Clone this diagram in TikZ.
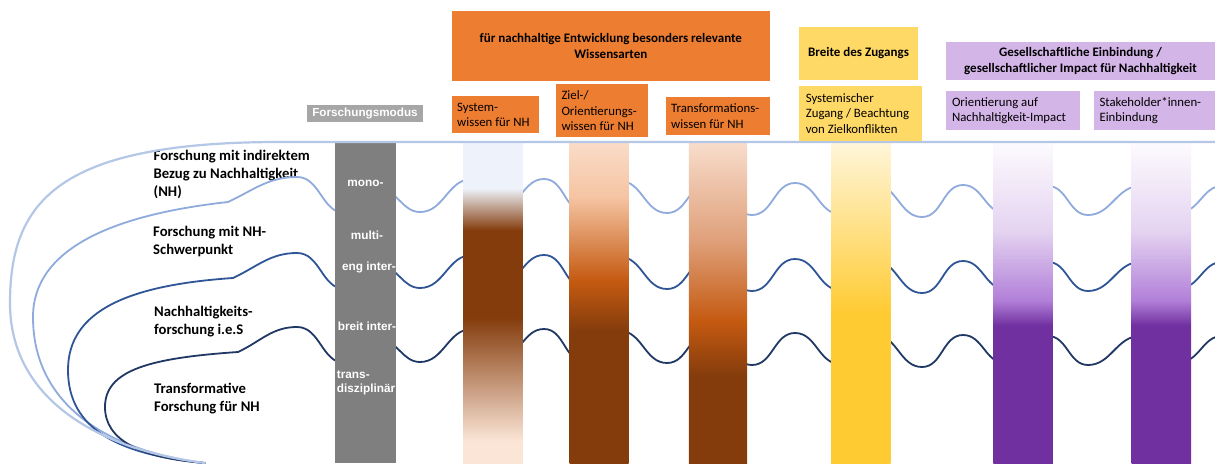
\documentclass[tikz,border=0pt]{standalone}
\usepackage{fontspec}
\setmainfont{Carlito}
\newfontfamily\arialf{Liberation Sans}
\definecolor{orng}{HTML}{ED7D31}
\definecolor{yel}{HTML}{FFD966}
\definecolor{lav}{HTML}{D4B5E8}
\definecolor{grl}{HTML}{A6A6A6}
\definecolor{grd}{HTML}{7F7F7F}
\definecolor{wA}{HTML}{B4C7E7}
\definecolor{wB}{HTML}{8FAADC}
\definecolor{wC}{HTML}{2F5597}
\definecolor{wD}{HTML}{203864}
\definecolor{brn}{HTML}{843C0C}
\definecolor{org}{HTML}{C55A11}
\definecolor{pur}{HTML}{7030A0}
\definecolor{b1a}{HTML}{EEF3FB}
\definecolor{b1z}{HTML}{FBE5D6}
\definecolor{b2a}{HTML}{FADCC8}
\definecolor{b2b}{HTML}{F5C4A2}
\definecolor{b3a}{HTML}{F8DDCC}
\definecolor{b3b}{HTML}{DFA07A}
\definecolor{ya}{HTML}{FFF6DA}
\definecolor{yb}{HTML}{FFCB33}
\definecolor{pa}{HTML}{FDFBFE}
\definecolor{pb}{HTML}{E5D4F1}
\definecolor{pc}{HTML}{B17FD8}
\pgfdeclareverticalshading{barone}{59bp}{color(0bp)=(b1z); color(23bp)=(b1z); color(146bp)=(brn); color(233bp)=(brn); color(275bp)=(b1a); color(321bp)=(b1a)}
\pgfdeclareverticalshading{bartwo}{59bp}{color(0bp)=(brn); color(133bp)=(brn); color(183bp)=(org); color(266bp)=(b2b); color(321bp)=(b2a)}
\pgfdeclareverticalshading{barthree}{58bp}{color(0bp)=(brn); color(88bp)=(brn); color(143bp)=(org); color(223bp)=(b3b); color(321bp)=(b3a)}
\pgfdeclareverticalshading{baryel}{59.5bp}{color(0bp)=(yb); color(150bp)=(yb); color(321bp)=(ya)}
\pgfdeclareverticalshading{barpur}{59.3bp}{color(0bp)=(pur); color(138bp)=(pur); color(163bp)=(pc); color(233bp)=(pb); color(321bp)=(pa)}
\newcommand\wavebody[2]{\begin{scope}[yshift=#2]
  \draw[wave,#1] (297,-177) to[wv] (345,-213) to[wv] (380,-190) to[wv] (420,-212)
   to[wv] (472,-179) to[wv] (500,-207) to[wv] (544,-179) to[wv] (585,-212)
   to[wv] (620,-181) to[wv] (667,-213) to[wv] (710,-182) to[wv] (752,-215)
   to[wv] (795,-183) to[wv] (840,-214) to[wv] (875,-185) to[wv] (922,-217)
   to[wv] (963,-185) to[wv] (1005,-213) to[wv] (1048,-186) to[wv] (1088,-215)
   to[wv] (1140,-186) to[wv] (1180,-212) to[wv] (1222,-186);
  \end{scope}}
\begin{document}
\begin{tikzpicture}[x=1pt,y=1pt,
  wave/.style={line width=1.8pt,line cap=round,line join=round},
  wv/.style={out=0,in=180},
  barnode/.style={inner sep=0pt,outer sep=0pt,anchor=north west},
  lbl/.style={font=\bfseries\fontsize{14.7}{18}\selectfont,align=left,inner sep=0pt,anchor=west},
  gl/.style={text=white,font=\arialf\bfseries\fontsize{11.8}{14}\selectfont,inner sep=0pt},
  head/.style={font=\bfseries\fontsize{13}{16}\selectfont,align=center,inner sep=0pt},
  subbox/.style={inner sep=0pt},
  subtxt/.style={font=\fontsize{12.8}{15.5}\selectfont,align=left,inner sep=0pt,anchor=west}]
\useasboundingbox (0,0) rectangle (1215,-463);
\fill[white] (0,0) rectangle (1215,-463);

% left labels
\node[lbl] (l1) at (153.5,-174) {Forschung mit indirektem\\Bezug zu Nachhaltigkeit\\(NH)};
\node[lbl] (l2) at (153,-241) {Forschung mit NH-\\Schwerpunkt};
\node[lbl] (l3) at (154,-322) {Nachhaltigkeits-\\forschung i.e.S};
\node[lbl] (l4) at (154,-399) {Transformative\\Forschung für NH};

\begin{scope}
\clip (0,0) rectangle (1215,-463);
% left loops
\draw[wave,wB] (205,-463) .. controls (100,-450) and (33,-400) .. (33,-317)
  .. controls (33,-250) and (110,-215) .. (228,-202) to[out=25,in=180] (297,-177);
\draw[wave,wC] (205,-463) .. controls (120,-455) and (68,-430) .. (68,-370)
  .. controls (68,-310) and (130,-285) .. (233,-278) to[out=25,in=180] (297,-253);
\draw[wave,wD] (205,-463) .. controls (140,-458) and (105,-440) .. (105,-407)
  .. controls (105,-370) and (150,-358) .. (238,-352) to[out=25,in=180] (297,-327);
% waves
\wavebody{wB}{0pt}
\wavebody{wC}{-76pt}
\wavebody{wD}{-150pt}

% bars
\node[barnode] (bar1) at (463.3,-142) {\pgfuseshading{barone}};
\node[barnode] (bar2) at (569.5,-142) {\pgfuseshading{bartwo}};
\node[barnode] (bar3) at (688.8,-142) {\pgfuseshading{barthree}};
\node[barnode] (bar4) at (831,-142) {\pgfuseshading{baryel}};
\node[barnode] (bar5) at (993.3,-142) {\pgfuseshading{barpur}};
\node[barnode] (bar6) at (1131.7,-142) {\pgfuseshading{barpur}};
\end{scope}

% gray bar
\fill[grd] (335,-141.7) rectangle (396,-463);
\node[gl] (g1) at (365.5,-183) {mono-};
\node[gl] (g2) at (367,-235) {multi-};
\node[gl] (g3) at (369,-267.3) {eng inter-};
\node[gl] (g4) at (367,-326.7) {breit inter-};
\node[gl,align=left,anchor=west] (g5) at (336.7,-383) {trans-\\disziplinär};

% outer curve
\draw[wave,wA,line width=2.2pt] (1215,-142) -- (280,-142) .. controls (60,-142) and (10,-200) .. (10,-303)
  .. controls (10,-400) and (100,-450) .. (205,-463);

% header
\node[fill=grl,text=white,font=\arialf\bfseries\fontsize{11.7}{14}\selectfont,
  minimum width=116.6pt,minimum height=17.3pt,inner sep=0pt] (fm) at (365,-113.7) {Forschungsmodus};

\node[head,fill=orng,minimum width=318.3pt,minimum height=70pt] (ow) at (610.85,-46)
  {für nachhaltige Entwicklung besonders relevante\\Wissensarten};
\node[head,fill=yel,minimum width=118.4pt,minimum height=53.3pt] (yb) at (858.5,-53.35)
  {Breite des Zugangs};
\node[head,fill=lav,minimum width=269pt,minimum height=37.7pt] (pg) at (1080.5,-61.15)
  {Gesellschaftliche Einbindung /\\gesellschaftlicher Impact für Nachhaltigkeit};

\node[subbox,fill=orng,minimum width=87.3pt,minimum height=37.3pt] (s1) at (495.35,-114.65) {};
\node[subtxt] (s1t) at ([xshift=5.5pt]s1.west) {System-\\wissen für NH};
\node[subbox,fill=orng,minimum width=91.7pt,minimum height=53.3pt] (s2) at (601.85,-110.65) {};
\node[subtxt] (s2t) at ([xshift=5.5pt]s2.west) {Ziel-/\\Orientierungs-\\wissen für NH};
\node[subbox,fill=orng,minimum width=104.3pt,minimum height=37.7pt] (s3) at (717.85,-116.15) {};
\node[subtxt] (s3t) at ([xshift=5.5pt]s3.west) {Transformations-\\wissen für NH};
\node[subbox,fill=yel,minimum width=122.7pt,minimum height=55pt] (s4) at (860.65,-113.5) {};
\node[subtxt] (s4t) at ([xshift=6.5pt]s4.west) {Systemischer\\Zugang / Beachtung\\von Zielkonflikten};
\node[subbox,fill=lav,minimum width=134pt,minimum height=39pt] (s5) at (1013,-110.5) {};
\node[subtxt] (s5t) at ([xshift=6pt]s5.west) {Orientierung auf\\Nachhaltigkeit-Impact};
\node[subbox,fill=lav,minimum width=121pt,minimum height=39pt] (s6) at (1154.5,-110.5) {};
\node[subtxt] (s6t) at ([xshift=5.5pt]s6.west) {Stakeholder*innen-\\Einbindung};
\end{tikzpicture}
\end{document}
